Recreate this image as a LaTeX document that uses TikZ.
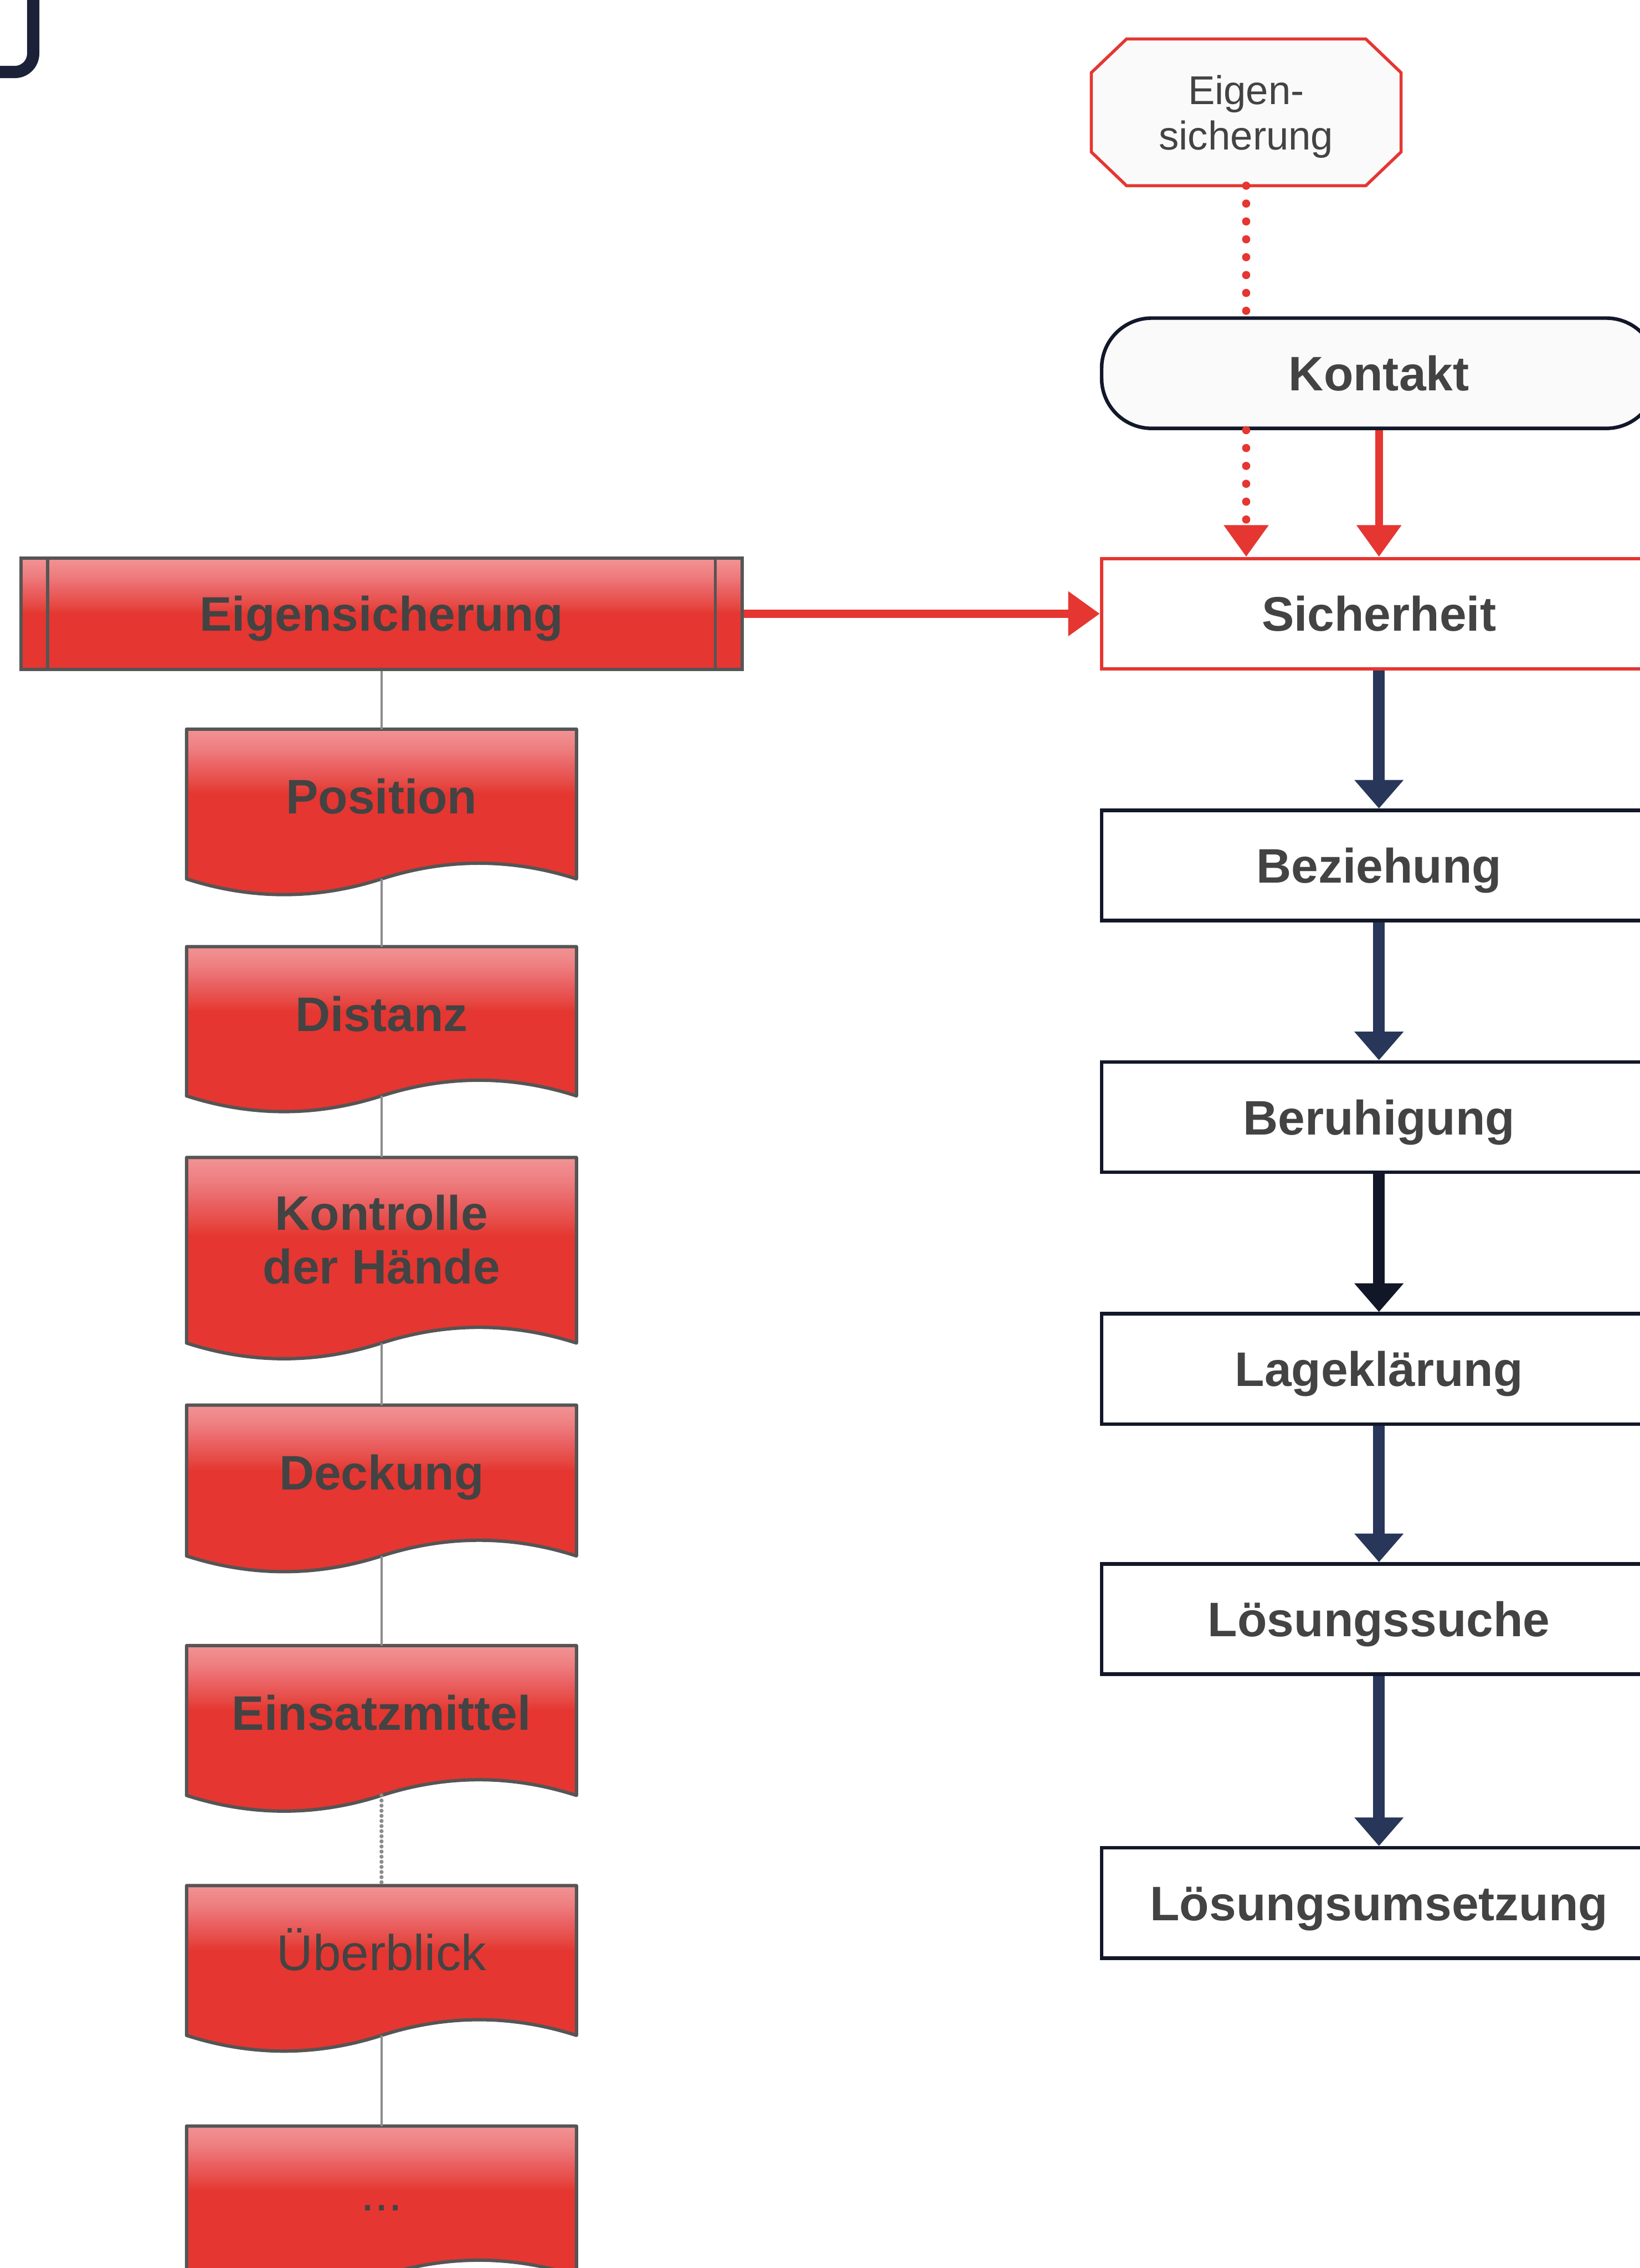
\documentclass[tikz,border=0pt]{standalone}
\usepackage{fontspec}
\setmainfont{Liberation Sans}
\usetikzlibrary{calc, positioning, arrows.meta, backgrounds}

\definecolor{alarmred}{HTML}{E53631}
\definecolor{docpink}{HTML}{F29394}
\definecolor{docmidA}{HTML}{EE7E80}
\definecolor{docmidB}{HTML}{EA6364}
\definecolor{docmidC}{HTML}{E64A45}
\definecolor{inktext}{HTML}{434343}
\definecolor{navyline}{HTML}{121829}
\definecolor{navyarrow}{HTML}{28365A}
\definecolor{darkarrow}{HTML}{111726}
\definecolor{docgray}{HTML}{555555}
\definecolor{linkgray}{HTML}{8C8C8C}
\definecolor{softwhite}{HTML}{FAFAFA}
\definecolor{cornernavy}{HTML}{1A2138}

\pgfdeclareverticalshading{docshade}{100bp}{color(0bp)=(alarmred); color(56bp)=(alarmred); color(59.2bp)=(docmidC); color(64.4bp)=(docmidB); color(69.3bp)=(docmidA); color(75bp)=(docpink); color(100bp)=(docpink)}
\pgfdeclareverticalshading{procshade}{100bp}{color(0bp)=(alarmred); color(50bp)=(alarmred); color(54bp)=(docmidC); color(61bp)=(docmidB); color(67.5bp)=(docmidA); color(75bp)=(docpink); color(100bp)=(docpink)}

\newcommand{\stepfont}{\fontsize{27}{29.9}\selectfont\bfseries}
\newcommand{\plainfont}{\fontsize{28}{31}\selectfont}
\newcommand{\notefont}{\fontsize{22.4}{25.3}\selectfont}

% document shape under a node: name, extra side length
\newcommand{\wavedoc}[2]{%
  \shade[shading=docshade, draw=docgray, line width=0.065cm, line join=round]
    (#1.north west) -- (#1.north east) -- ($(#1.south east)+(0,-#2)$)
    .. controls +(-1.27,0.41) and +(1.27,0.41) .. ($(#1.south)+(0,-#2)$)
    .. controls +(-1.27,-0.41) and +(1.27,-0.41) .. ($(#1.south west)+(0,-#2)$) -- cycle;
  \coordinate (#1-w) at ($(#1.south)+(0,-#2)$);}

\begin{document}
\begin{tikzpicture}[
    stepbox/.style={draw=navyline, line width=0.07cm, fill=white, minimum width=10.86cm,
      minimum height=2.16cm, inner sep=0pt, font=\stepfont, text=inktext,
      text height=19.4pt, text depth=0pt},
    procbox/.style={shade, shading=procshade, draw=docgray, line width=0.07cm,
      minimum width=14.12cm, minimum height=2.18cm, inner sep=0pt, font=\stepfont,
      text=inktext, text height=19.4pt, text depth=0pt},
    docnode/.style={minimum width=7.62cm, minimum height=2.62cm, inner sep=0pt,
      anchor=north, font=\stepfont, text=inktext},
    oneline/.style={text height=19.4pt, text depth=0pt},
    notebox/.style={minimum width=6.05cm, minimum height=2.86cm, inner sep=0pt,
      align=center, font=\notefont, text=inktext, text depth=0pt},
    navyflow/.style={-{Triangle[width=0.93cm,length=0.56cm]}, line width=0.23cm, draw=navyarrow},
    redflow/.style={-{Triangle[width=0.84cm,length=0.62cm]}, line width=0.155cm, draw=alarmred},
    reddots/.style={line width=0.16cm, draw=alarmred, line cap=round, dash pattern=on 0pt off 0.35cm},
    linkline/.style={line width=0.045cm, draw=linkgray},
    linkdots/.style={line width=0.08cm, draw=linkgray, line cap=round, dash pattern=on 0pt off 0.1cm}
  ]
  \useasboundingbox (0,0) rectangle (32.11,-44.42);
  \clip (0,0) rectangle (32.11,-44.42);

  % corner of the frame above
  \draw[line width=0.24cm, cornernavy, rounded corners=0.36cm] (-1,-1.41) -- (0.65,-1.41) -- (0.65,1);

  % right column
  \node[notebox] (selbst) at (24.40,-2.20) {Eigen-\\sicherung};
  \node[stepbox, fill=softwhite, rounded corners=0.98cm] (kontakt) at (27.00,-7.31) {Kontakt};
  \node[stepbox, draw=alarmred] (sicher) at (27.00,-12.02) {Sicherheit};
  \node[stepbox] (bezieh) at (27.00,-16.95) {Beziehung};
  \node[stepbox] (beruh) at (27.00,-21.88) {Beruhigung};
  \node[stepbox] (lage) at (27.00,-26.81) {Lageklärung};
  \node[stepbox] (suche) at (27.00,-31.71) {Lösungssuche};
  \node[stepbox] (umsetz) at (27.00,-37.27) {Lösungsumsetzung};

  % left column
  \node[procbox] (eigen) at (7.47,-12.02) {Eigensicherung};
  \draw[docgray, line width=0.06cm] ($(eigen.north west)+(0.56,0)$) -- ($(eigen.south west)+(0.56,0)$);
  \draw[docgray, line width=0.06cm] ($(eigen.north east)+(-0.56,0)$) -- ($(eigen.south east)+(-0.56,0)$);
  \node[docnode, oneline] (posi) at (7.47,-14.28) {Position};
  \node[docnode, oneline] (dist) at (7.47,-18.54) {Distanz};
  \node[docnode, minimum height=3.21cm, align=center] (kontr) at (7.47,-22.67) {Kontrolle\\der Hände};
  \node[docnode, oneline] (deck) at (7.47,-27.52) {Deckung};
  \node[docnode, oneline] (mittel) at (7.47,-32.23) {Einsatzmittel};
  \node[docnode, oneline, font=\plainfont] (ueber) at (7.47,-36.93) {Überblick};
  \node[docnode, oneline, font=\plainfont] (weiter) at (7.47,-41.64) {...};

  \begin{pgfonlayer}{background}
    \filldraw[fill=softwhite, draw=alarmred, line width=0.06cm]
      ($(selbst.north west)+(0.69,0)$) -- ($(selbst.north east)+(-0.69,0)$)
      -- ($(selbst.north east)+(0,-0.66)$) -- ($(selbst.south east)+(0,0.66)$)
      -- ($(selbst.south east)+(-0.69,0)$) -- ($(selbst.south west)+(0.69,0)$)
      -- ($(selbst.south west)+(0,0.66)$) -- ($(selbst.north west)+(0,-0.66)$) -- cycle;
    \wavedoc{posi}{0.30}
    \wavedoc{dist}{0.29}
    \wavedoc{kontr}{0.41}
    \wavedoc{deck}{0.32}
    \wavedoc{mittel}{0.30}
    \wavedoc{ueber}{0.30}
    \wavedoc{weiter}{0.30}
  \end{pgfonlayer}

  % connectors
  \draw[linkline] (eigen) -- (posi);
  \draw[linkline] (posi-w) -- (dist.north);
  \draw[linkline] (dist-w) -- (kontr.north);
  \draw[linkline] (kontr-w) -- (deck.north);
  \draw[linkline] (deck-w) -- (mittel.north);
  \draw[linkdots] (mittel-w) -- (ueber.north);
  \draw[linkline] (ueber-w) -- (weiter.north);

  \draw[reddots] (selbst.south) -- (selbst.south |- kontakt.north);
  \draw[reddots, -{Triangle[width=0.84cm,length=0.62cm]}] (kontakt.south -| selbst.south) -- (sicher.north -| selbst.south);
  \draw[redflow] (kontakt) -- (sicher);
  \draw[redflow] (eigen) -- (sicher);
  \draw[navyflow] (sicher) -- (bezieh);
  \draw[navyflow] (bezieh) -- (beruh);
  \draw[navyflow, draw=darkarrow] (beruh) -- (lage);
  \draw[navyflow] (lage) -- (suche);
  \draw[navyflow] (suche) -- (umsetz);
\end{tikzpicture}
\end{document}
